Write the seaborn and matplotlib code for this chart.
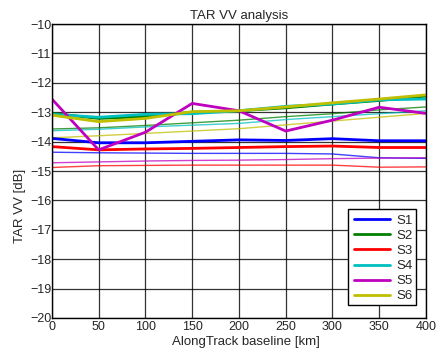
import numpy as np
import pandas as pd
import matplotlib
matplotlib.use("Agg")
import matplotlib.pyplot as plt
from matplotlib.patches import Rectangle
import seaborn as sns

baseline_km = [0, 50, 100, 150, 200, 250, 300, 350, 400]
series_names = ["S1", "S2", "S3", "S4", "S5", "S6"]

# thick lines (legend series)
s1 = [-13.89, -14.04, -14.04, -13.99, -13.94, -13.96, -13.90, -13.97, -13.97]
s2 = [-13.04, -13.21, -13.15, -13.00, -12.95, -12.85, -12.72, -12.60, -12.45]
s3 = [-14.17, -14.28, -14.25, -14.23, -14.20, -14.17, -14.15, -14.20, -14.20]
s4 = [-13.07, -13.17, -13.07, -13.05, -12.95, -12.80, -12.72, -12.58, -12.55]
s5 = [-12.55, -14.28, -13.68, -12.70, -12.95, -13.64, -13.27, -12.83, -13.04]
s6 = [-13.10, -13.32, -13.21, -12.98, -12.95, -12.82, -12.68, -12.55, -12.41]

# thin lines (reference set, same colours)
r1 = [-14.36, -14.38, -14.39, -14.40, -14.40, -14.40, -14.42, -14.55, -14.57]
r2 = [-13.57, -13.53, -13.45, -13.36, -13.27, -13.15, -13.05, -12.92, -12.82]
r3 = [-14.88, -14.82, -14.81, -14.80, -14.80, -14.80, -14.80, -14.87, -14.86]
r4 = [-13.63, -13.58, -13.50, -13.44, -13.38, -13.25, -13.15, -13.05, -12.95]
r5 = [-14.72, -14.69, -14.66, -14.64, -14.63, -14.61, -14.58, -14.56, -14.55]
r6 = [-13.87, -13.80, -13.72, -13.64, -13.56, -13.43, -13.30, -13.17, -13.04]

colors = ["#0000ff", "#008000", "#ff0000", "#00bfbf", "#bf00bf", "#bfbf00"]

thick = [s1, s2, s3, s4, s5, s6]
thin = [r1, r2, r3, r4, r5, r6]

df_thick = pd.DataFrame([
    {"x": b, "y": v, "series": n}
    for n, vals in zip(series_names, thick) for b, v in zip(baseline_km, vals)
])
df_thin = pd.DataFrame([
    {"x": b, "y": v, "series": n}
    for n, vals in zip(series_names, thin) for b, v in zip(baseline_km, vals)
])

sns.set_style("white")
plt.rcParams["font.family"] = ["Liberation Sans", "DejaVu Sans"]

fig = plt.figure(figsize=(4.36, 3.49), dpi=100)
ax = fig.add_axes([0.119, 0.089, 0.858, 0.842])

palette = dict(zip(series_names, colors))
sns.lineplot(data=df_thin, x="x", y="y", hue="series", palette=palette,
             linewidth=1.0, alpha=0.75, legend=False, ax=ax, sort=False)
sns.lineplot(data=df_thick, x="x", y="y", hue="series", palette=palette,
             linewidth=2.0, ax=ax, sort=False)

ax.set_xlim(0, 400)
ax.set_ylim(-20, -10)
ax.set_xticks(baseline_km)
ax.set_yticks(np.arange(-20, -9, 1))
ax.grid(True, color="black", linewidth=0.9, alpha=0.8)
ax.tick_params(axis="both", direction="in", labelsize=9, length=3, color="black")
ax.tick_params(axis="y", pad=0.5)
ax.tick_params(axis="x", pad=2)
for sp in ax.spines.values():
    sp.set_color("black")
    sp.set_linewidth(1.0)
ax.set_title("TAR VV analysis", fontsize=9.5, pad=3.5)
ax.set_xlabel("AlongTrack baseline [km]", fontsize=9.5)
ax.set_ylabel("TAR VV [dB]", fontsize=9.5)
ax.xaxis.set_label_coords(0.519, -0.082)
ax.yaxis.set_label_coords(-0.086, 0.381)
ax.xaxis.label.set_va("center")
ax.yaxis.label.set_va("center")

# legend: MATLAB style, labels overflow the box slightly
leg = ax.legend(loc="upper left", bbox_to_anchor=(0.807, 0.352),
                fontsize=9.5, frameon=False, borderpad=0, borderaxespad=0,
                handlelength=2.75, labelspacing=0.22, handletextpad=0.5)
leg.set_title(None)
ax.add_patch(Rectangle((0.791, 0.044), 0.182, 0.327, transform=ax.transAxes,
                       facecolor="white", edgecolor="black", linewidth=1.0,
                       zorder=4))
leg.set_zorder(5)

fig.savefig("out.png", dpi=100)
